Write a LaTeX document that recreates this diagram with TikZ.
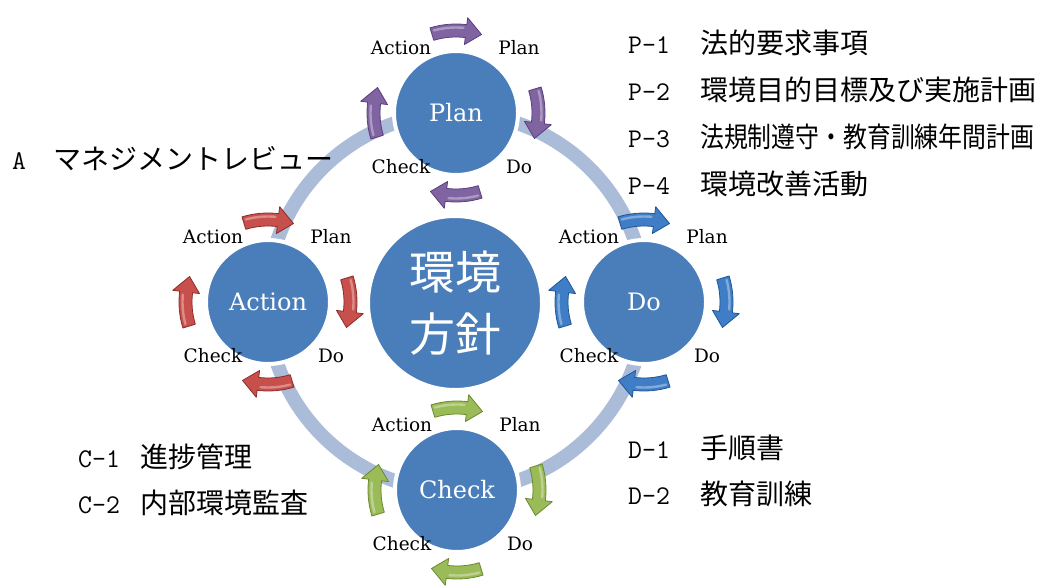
\documentclass[tikz,border=0pt]{standalone}
\usepackage{fontspec}
\usepackage{graphicx}
\usetikzlibrary{calc}
\newfontfamily\cjk{Noto Sans CJK JP}
\newfontfamily\lblfont{DejaVu Serif}
\definecolor{circfill}{HTML}{4A7EBB}
\definecolor{ringcol}{HTML}{ABBCD9}
\definecolor{purA}{HTML}{8064A2}\definecolor{purB}{HTML}{5A3F7E}
\definecolor{redA}{HTML}{C8504C}\definecolor{redB}{HTML}{8E2C29}
\definecolor{bluA}{HTML}{3F7EC6}\definecolor{bluB}{HTML}{1F5796}
\definecolor{grnA}{HTML}{9BBB59}\definecolor{grnB}{HTML}{6A8A2E}
\newcommand\cyarrow[4]{%
  \begin{scope}[shift={(#1)}]
    \pgfmathsetmacro\sa{#2+17}\pgfmathsetmacro\ea{#2-18}\pgfmathsetmacro\ha{#2-7}
    \pgfmathsetmacro\hb{#2+15}\pgfmathsetmacro\hc{#2-5}
    \fill[#3, draw=#4, line width=0.8pt, line join=round]
      (\sa:89pt) arc[start angle=\sa, end angle=\ha, radius=89pt]
      -- (\ha:96pt) -- (\ea:82.5pt) -- (\ha:69pt) -- (\ha:76pt)
      arc[start angle=\ha, end angle=\sa, radius=76pt] -- cycle;
    \draw[white, opacity=0.35, line width=2.4pt, line cap=round]
      (\hb:85.5pt) arc[start angle=\hb, end angle=\hc, radius=85.5pt];
  \end{scope}}
\begin{document}
\begin{tikzpicture}[x=1pt,y=1pt,
  smallc/.style={circle, fill=circfill, draw=white, line width=4pt, minimum size=124pt, inner sep=0pt,
    text=white, font=\lblfont\fontsize{24}{26}\selectfont},
  bigc/.style={circle, fill=circfill, draw=white, line width=4pt, minimum size=174pt, inner sep=0pt,
    text=white, align=center, font=\cjk\fontsize{46}{62}\selectfont},
  lbl/.style={inner sep=0pt, font=\lblfont\fontsize{18.5}{20}\selectfont},
  sidel/.style={anchor=base west, inner sep=0pt, font=\ttfamily\fontsize{27}{30}\selectfont},
  sidej/.style={anchor=base west, inner sep=0pt, font=\cjk\fontsize{28}{30}\selectfont}]
\useasboundingbox (0,0) rectangle (1046,587);
\coordinate (C) at (456,285);
\draw[ringcol, line width=14pt] (C) circle[radius=189pt];
\node[bigc] (center) at (455,284) {環境\\方針};
\node[smallc] (P) at (456,474) {Plan};
\node[smallc] (A) at (268,285) {Action};
\node[smallc] (D) at (644,285) {Do};
\node[smallc] (K) at (457,97) {Check};
% arrows
\foreach \a in {90,0,-90,180} {\cyarrow{P}{\a}{purA}{purB}}
\foreach \a in {90,0,-90,180} {\cyarrow{A}{\a}{redA}{redB}}
\foreach \a in {90,0,-90,180} {\cyarrow{D}{\a}{bluA}{bluB}}
\foreach \a in {90,0,-90,180} {\cyarrow{K}{\a}{grnA}{grnB}}
% labels around circles
\foreach \c in {P,A,D,K} {
  \node[lbl] (\c-la) at ($(\c)+(-55,65)$) {Action};
  \node[lbl] (\c-lp) at ($(\c)+(63,65)$) {Plan};
  \node[lbl] (\c-lc) at ($(\c)+(-55,-54)$) {Check};
  \node[lbl] (\c-ld) at ($(\c)+(63,-54)$) {Do};
}
% side texts
\node[sidel] (p1l) at (628,533) {P-1};
\node[sidej] (p1j) at (700,533) {法的要求事項};
\node[sidel] (p2l) at (628,486) {P-2};
\node[sidej] (p2j) at (700,486) {環境目的目標及び実施計画};
\node[sidel] (p3l) at (628,439) {P-3};
\node[sidej] (p3j) at (700,439) {\resizebox{334pt}{\height}{法規制遵守・教育訓練年間計画}};
\node[sidel] (p4l) at (628,392) {P-4};
\node[sidej] (p4j) at (700,392) {環境改善活動};
\node[sidel] (al) at (12,417) {A};
\node[sidej] (aj) at (53,417) {マネジメントレビュー};
\node[sidel] (c1l) at (78,120) {C-1};
\node[sidej] (c1j) at (140,120) {進捗管理};
\node[sidel] (c2l) at (78,74) {C-2};
\node[sidej] (c2j) at (140,74) {内部環境監査};
\node[sidel] (d1l) at (628,129) {D-1};
\node[sidej] (d1j) at (700,129) {手順書};
\node[sidel] (d2l) at (628,83) {D-2};
\node[sidej] (d2j) at (700,83) {教育訓練};
\end{tikzpicture}
\end{document}
